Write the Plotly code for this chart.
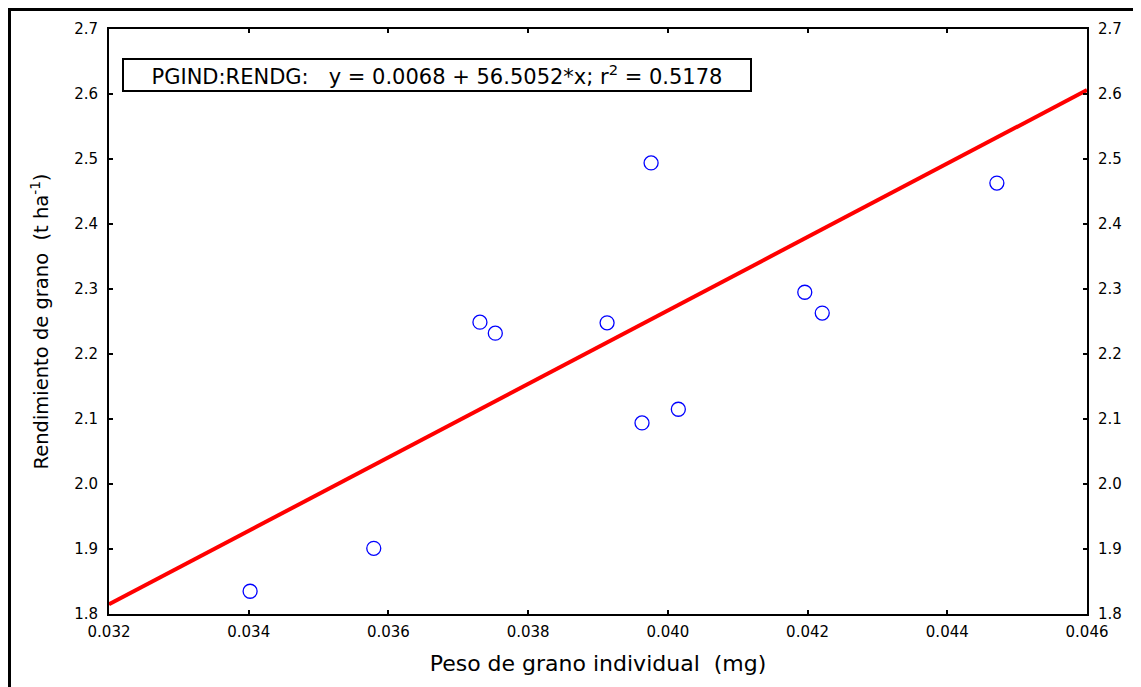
import plotly.graph_objects as go

# Data
peso_mg = [0.03402, 0.03579, 0.03731, 0.03753, 0.03913, 0.03963, 0.03976, 0.04015, 0.04196, 0.04221, 0.04471]
rendimiento = [1.835, 1.901, 2.249, 2.232, 2.248, 2.094, 2.494, 2.115, 2.295, 2.263, 2.463]

# Regression coefficients
intercept = 0.0068
slope = 56.5052
r2 = 0.5178
x_range = [0.032, 0.046]
y_range = [1.8, 2.7]
x_ticks = [0.032, 0.034, 0.036, 0.038, 0.040, 0.042, 0.044, 0.046]
y_ticks = [1.8, 1.9, 2.0, 2.1, 2.2, 2.3, 2.4, 2.5, 2.6, 2.7]

line_x = x_range
line_y = [intercept + slope * v for v in line_x]

FONT = "DejaVu Sans, Liberation Sans, Arial, sans-serif"

fig = go.Figure()
fig.add_trace(go.Scatter(x=line_x, y=line_y, mode="lines",
                         line=dict(color="#ff0000", width=4), showlegend=False,
                         hoverinfo="skip"))
fig.add_trace(go.Scatter(x=peso_mg, y=rendimiento, mode="markers",
                         marker=dict(symbol="circle-open", size=14, color="#0000ff",
                                     line=dict(width=1.3, color="#0000ff")),
                         showlegend=False))
# invisible trace to enable right axis
fig.add_trace(go.Scatter(x=[None], y=[None], yaxis="y2", showlegend=False))

# page has an 8px body margin; figure coordinates are offset accordingly
OFF = 8
W, H = 1141 - OFF, 687 - OFF
L, R, T, B = 109 - OFF, 1087 - OFF, 29 - OFF, 614 - OFF
pw, ph = R - L, B - T

axis_common = dict(showgrid=False, zeroline=False, showline=True, linecolor="black",
                   linewidth=2, ticks="inside", ticklen=4, tickwidth=2, tickcolor="black",
                   tickfont=dict(family=FONT, size=15, color="black"))

fig.update_layout(
    width=W, height=H,
    margin=dict(l=L, r=W - R, t=T, b=H - B),
    paper_bgcolor="white", plot_bgcolor="white",
    font=dict(family=FONT, color="black"),
    xaxis=dict(range=x_range, tickvals=x_ticks, ticktext=[f"{v:.3f}" for v in x_ticks],
               mirror="ticks", ticklabelstandoff=3,
               title=dict(text="Peso de grano individual  (mg)", font=dict(size=22), standoff=16),
               **axis_common),
    yaxis=dict(range=y_range, tickvals=y_ticks, ticktext=[f"{v:.1f}" for v in y_ticks],
               mirror="ticks", ticklabelstandoff=6,
               title=dict(text="Rendimiento de grano  (t ha<sup>-1</sup>)", font=dict(size=19.5), standoff=20),
               **axis_common),
    yaxis2=dict(range=y_range, tickvals=y_ticks, ticktext=[f"{v:.1f}" for v in y_ticks],
                overlaying="y", side="right", ticklabelstandoff=6, **axis_common),
)


def px_x(p):
    return (p - OFF - L) / pw


def px_y(p):
    return 1 - (p - OFF - T) / ph


fig.add_annotation(
    xref="paper", yref="paper", x=px_x(122), y=px_y(58),
    xanchor="left", yanchor="top", width=622, height=26, align="center",
    text=f"PGIND:RENDG:   y = {intercept:.4f} + {slope:.4f}*x; r<sup>2</sup> = {r2:.4f}",
    showarrow=False, font=dict(family=FONT, size=21, color="black"),
    bordercolor="black", borderwidth=2, borderpad=2, bgcolor="white",
)

# Outer frame
fig.add_shape(type="line", xref="paper", yref="paper", x0=px_x(9.5), x1=px_x(9.5),
              y0=px_y(9), y1=px_y(700), line=dict(color="black", width=3))
fig.add_shape(type="line", xref="paper", yref="paper", x0=px_x(8), x1=px_x(1140),
              y0=px_y(9.5), y1=px_y(9.5), line=dict(color="black", width=3))
fig.add_shape(type="line", xref="paper", yref="paper", x0=px_x(1139.5), x1=px_x(1139.5),
              y0=px_y(9.5), y1=px_y(700), line=dict(color="#cccccc", width=1.5))

fig.write_html("out.html")
